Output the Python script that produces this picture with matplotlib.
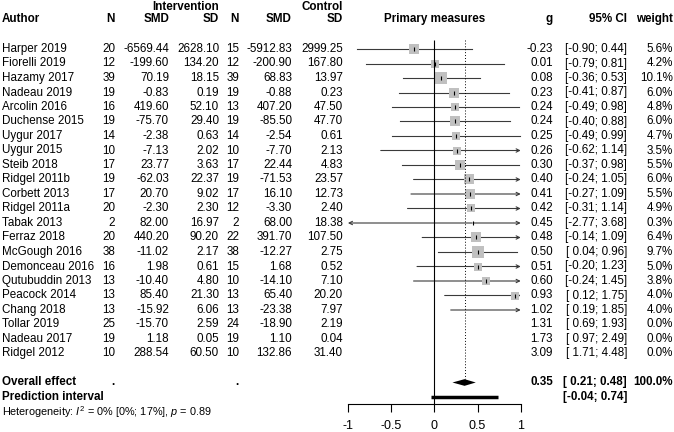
import numpy as np
import matplotlib
matplotlib.use("Agg")
import matplotlib.pyplot as plt
from matplotlib.transforms import blended_transform_factory

plt.rcParams['font.family'] = ['Liberation Sans', 'DejaVu Sans']
plt.rcParams['axes.unicode_minus'] = False
plt.rcParams['mathtext.fontset'] = 'custom'
plt.rcParams['mathtext.rm'] = 'Liberation Sans'
plt.rcParams['mathtext.it'] = 'Liberation Sans:italic'

# study data
authors = ["Harper 2019", "Fiorelli 2019", "Hazamy 2017", "Nadeau 2019", "Arcolin 2016",
           "Duchense 2015", "Uygur 2017", "Uygur 2015", "Steib 2018", "Ridgel 2011b",
           "Corbett 2013", "Ridgel 2011a", "Tabak 2013", "Ferraz 2018", "McGough 2016",
           "Demonceau 2016", "Qutubuddin 2013", "Peacock 2014", "Chang 2018", "Tollar 2019",
           "Nadeau 2017", "Ridgel 2012"]
n_int = [20, 12, 39, 19, 16, 19, 14, 10, 17, 19, 17, 20, 2, 20, 38, 16, 13, 13, 13, 25, 19, 10]
smd_int = [-6569.44, -199.60, 70.19, -0.83, 419.60, -75.70, -2.38, -7.13, 23.77, -62.03,
           20.70, -2.30, 82.00, 440.20, -11.02, 1.98, -10.40, 85.40, -15.92, -15.70, 1.18, 288.54]
sd_int = [2628.10, 134.20, 18.15, 0.19, 52.10, 29.40, 0.63, 2.02, 3.63, 22.37,
          9.02, 2.30, 16.97, 90.20, 2.17, 0.61, 4.80, 21.30, 6.06, 2.59, 0.05, 60.50]
n_ctl = [15, 12, 39, 19, 13, 19, 14, 10, 17, 19, 17, 12, 2, 22, 38, 15, 10, 13, 13, 24, 19, 10]
smd_ctl = [-5912.83, -200.90, 68.83, -0.88, 407.20, -85.50, -2.54, -7.70, 22.44, -71.53,
           16.10, -3.30, 68.00, 391.70, -12.27, 1.68, -14.10, 65.40, -23.38, -18.90, 1.10, 132.86]
sd_ctl = [2999.25, 167.80, 13.97, 0.23, 47.50, 47.70, 0.61, 2.13, 4.83, 23.57,
          12.73, 2.40, 18.38, 107.50, 2.75, 0.52, 7.10, 20.20, 7.97, 2.19, 0.04, 31.40]
g = [-0.23, 0.01, 0.08, 0.23, 0.24, 0.24, 0.25, 0.26, 0.30, 0.40, 0.41, 0.42, 0.45,
     0.48, 0.50, 0.51, 0.60, 0.93, 1.02, 1.31, 1.73, 3.09]
ci_lo = [-0.90, -0.79, -0.36, -0.41, -0.49, -0.40, -0.49, -0.62, -0.37, -0.24, -0.27, -0.31,
         -2.77, -0.14, 0.04, -0.20, -0.24, 0.12, 0.19, 0.69, 0.97, 1.71]
ci_hi = [0.44, 0.81, 0.53, 0.87, 0.98, 0.88, 0.99, 1.14, 0.98, 1.05, 1.09, 1.14,
         3.68, 1.09, 0.96, 1.23, 1.45, 1.75, 1.85, 1.93, 2.49, 4.48]
weight = [5.6, 4.2, 10.1, 6.0, 4.8, 6.0, 4.7, 3.5, 5.5, 6.0, 5.5, 4.9, 0.3, 6.4, 9.7,
          5.0, 3.8, 4.0, 4.0, 0.0, 0.0, 0.0]

overall_g, overall_lo, overall_hi = 0.35, 0.21, 0.48
pred_lo, pred_hi = -0.04, 0.74
xticks = [-1, -0.5, 0, 0.5, 1]
xmin, xmax = -1, 1

W, H = 674, 432
fig = plt.figure(figsize=(W / 100, H / 100), dpi=100)
ax = fig.add_axes([0, 0, 1, 1])
ax.patch.set_alpha(0)

# map: x=0 at 434.3 px, 86.4 px per unit; row r at 49 + 14.5 r px
ppu, x0 = 86.4, 434.3
ax.set_xlim(-x0 / ppu, (W - x0) / ppu)
ax.set_ylim((H - 49) / 14.5, -49 / 14.5)

fs = 8.4
tr = blended_transform_factory(fig.transFigure, ax.transData)

def txt(xpx, row, s, ha='right', bold=False, size=fs):
    ax.text(xpx / W, row, s, transform=tr, ha=ha, va='center', fontsize=size,
            fontweight='bold' if bold else 'normal')

# headers
txt(219, -2.9, "Intervention", bold=True)
txt(343, -2.9, "Control", bold=True)
txt(2, -2.05, "Author", ha='left', bold=True)
for xp, s in [(115, "N"), (169, "SMD"), (219, "SD"), (239, "N"), (292, "SMD"), (343, "SD"),
              (553, "g"), (627, "95% CI"), (673, "weight")]:
    txt(xp, -2.05, s, bold=True)
ax.text(0, -2.05, "Primary measures", ha='center', va='center', fontsize=fs, fontweight='bold')

def ci_str(lo, hi):
    def f(v):
        return f"{v:.2f}" if v < 0 else f" {v:.2f}"
    return f"[{f(lo)}; {f(hi).strip()}]"

rows = np.arange(len(authors))
for i in rows:
    txt(2, i, authors[i], ha='left')
    txt(115, i, f"{n_int[i]}")
    txt(169, i, f"{smd_int[i]:.2f}")
    txt(219, i, f"{sd_int[i]:.2f}")
    txt(239, i, f"{n_ctl[i]}")
    txt(292, i, f"{smd_ctl[i]:.2f}")
    txt(343, i, f"{sd_ctl[i]:.2f}")
    txt(553, i, f"{g[i]:.2f}")
    txt(627, i, ci_str(ci_lo[i], ci_hi[i]))
    txt(673, i, f"{weight[i]:.1f}%")

# study markers
line_col = '#3a3a3a'
for i in rows:
    if weight[i] <= 0:
        continue
    lo = max(ci_lo[i], xmin)
    hi = min(ci_hi[i], xmax)
    if ci_lo[i] < xmin or ci_hi[i] > xmax:
        style = '<->' if (ci_lo[i] < xmin and ci_hi[i] > xmax) else ('->' if ci_hi[i] > xmax else '<-')
        ax.annotate('', xy=(hi, i), xytext=(lo, i),
                    arrowprops=dict(arrowstyle=style, lw=0.8, color=line_col,
                                    shrinkA=0, shrinkB=0, mutation_scale=6), zorder=1)
    else:
        ax.plot([lo, hi], [i, i], color=line_col, lw=0.8, zorder=1)
    if xmin <= g[i] <= xmax:
        side_pt = 3.85 * np.sqrt(weight[i]) * 0.72
        ax.scatter(g[i], i, marker='s', s=side_pt ** 2, color='#c0c0c0', linewidths=0, zorder=2)
        ax.scatter(g[i], i, marker='|', s=9, color='black', linewidths=0.8, zorder=3)

# reference lines
r_over, r_pred, r_het = len(authors) + 1, len(authors) + 2, len(authors) + 3
axis_row = r_pred + 0.45
ax.vlines(0, -0.62, axis_row, color='black', lw=0.8)
ax.vlines(overall_g, -0.62, r_over - 0.23, color='black', lw=0.7, linestyles=(0, (1, 2)))

# overall diamond
dh = 0.23
ax.fill([overall_lo, overall_g, overall_hi, overall_g],
        [r_over, r_over - dh, r_over, r_over + dh], color='black', lw=0)
# prediction interval
ax.plot([pred_lo, pred_hi], [r_pred, r_pred], color='black', lw=2.5, solid_capstyle='butt')

txt(2, r_over, "Overall effect", ha='left', bold=True)
txt(115, r_over, ".", bold=True)
txt(239, r_over, ".", bold=True)
txt(553, r_over, f"{overall_g:.2f}", bold=True)
txt(627, r_over, ci_str(overall_lo, overall_hi), bold=True)
txt(673, r_over, "100.0%", bold=True)
txt(2, r_pred, "Prediction interval", ha='left', bold=True)
txt(627, r_pred, ci_str(pred_lo, pred_hi), bold=True)
txt(2, r_het + 0.05, r"Heterogeneity: $I^2$ = 0% [0%; 17%], $p$ = 0.89", ha='left', size=7.8)

# x axis
for s in ['top', 'left', 'right']:
    ax.spines[s].set_visible(False)
ax.spines['bottom'].set_position(('data', axis_row))
ax.spines['bottom'].set_bounds(xmin, xmax)
ax.spines['bottom'].set_linewidth(0.8)
ax.set_xticks(xticks)
ax.set_xticklabels([f"{t:g}" for t in xticks])
ax.set_yticks([])
ax.tick_params(axis='x', direction='out', length=5.5, width=0.8, pad=6.5, labelsize=9)

fig.savefig("out.png", dpi=100)
